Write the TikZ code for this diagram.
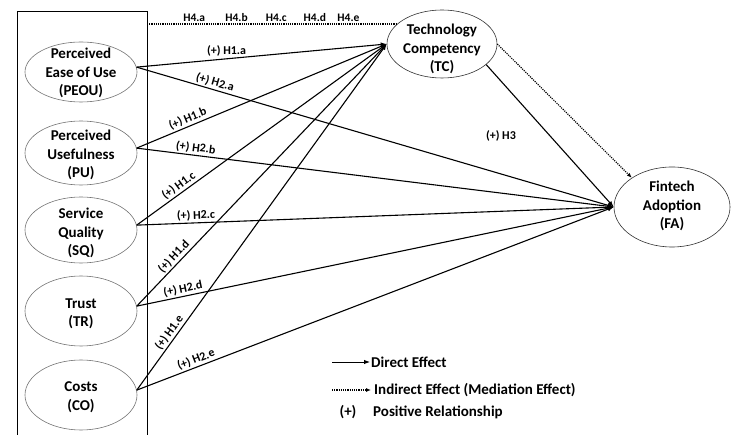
\documentclass[tikz,border=0pt]{standalone}
\usepackage{fontspec}
\setmainfont{Carlito}
\usetikzlibrary{shapes.geometric,arrows.meta}
\begin{document}
\begin{tikzpicture}[x=1pt,y=-1pt,
  cons/.style={draw=black!55, line width=0.6pt, ellipse, inner sep=0pt, minimum width=112pt},
  ctext/.style={font=\bfseries\fontsize{15}{18.5}\selectfont, align=center, text=black},
  direct/.style={line width=1.1pt, -{Latex[length=6pt,width=4.5pt]}},
  indirect/.style={line width=1.2pt, dash pattern=on 1.1pt off 1.1pt, -{Latex[length=5pt,width=4pt]}},
  dotline/.style={line width=1.2pt, dash pattern=on 1.1pt off 1.1pt},
  elab/.style={font=\bfseries\fontsize{12}{13}\selectfont, above, inner sep=1.5pt},
  eslope/.style={elab, sloped},
  hlab/.style={font=\bfseries\fontsize{11.5}{13}\selectfont, above, inner sep=2pt},
  legtext/.style={font=\bfseries\fontsize{15}{17}\selectfont},
]
\useasboundingbox (0,0) rectangle (732,435);

% frame around the independent constructs
\draw[line width=1pt] (17,435) -- (17,12) -- (147,12) -- (147,435);

% constructs
\node[cons, minimum height=60pt, label={[ctext, yshift=-1pt]center:Perceived\\Ease of Use\\(PEOU)}] (PEOU) at (81,72) {};
\node[cons, minimum height=64pt, label={[ctext, yshift=-2pt]center:Perceived\\Usefulness\\(PU)}] (PU) at (81,153) {};
\node[cons, minimum height=66pt, label={[ctext, yshift=-3pt]center:Service\\Quality\\(SQ)}] (SQ) at (81,230) {};
\node[cons, minimum height=70pt, label={[ctext, yshift=-3pt]center:Trust\\(TR)}] (TR) at (81,311) {};
\node[cons, minimum height=70pt, label={[ctext, yshift=-2pt]center:Costs\\(CO)}] (CO) at (81,395) {};

\node[cons, draw=black!80, minimum width=110pt, minimum height=68pt, label={[ctext, yshift=-5pt]center:Technology\\Competency\\(TC)}] (TC) at (442,44) {};
\node[cons, draw=black!80, minimum width=116pt, minimum height=80pt, label={[ctext, yshift=1pt]center:Fintech\\Adoption\\(FA)}] (FA) at (672,207) {};

% mediation (H4) dotted line
\coordinate (rtop) at (147,24);
\draw[dotline] (rtop) -- (rtop -| TC.158)
  node[hlab, pos=0.19] (h4a) {H4.a}
  node[hlab, pos=0.36] (h4b) {H4.b}
  node[hlab, pos=0.52] (h4c) {H4.c}
  node[hlab, pos=0.675] (h4d) {H4.d}
  node[hlab, pos=0.81] (h4e) {H4.e};

% H1 paths to TC
\draw[direct] (PEOU.5) -- node[elab, pos=0.36] (h1a) {(+) H1.a} (TC.west);
\draw[direct] (PU.5) -- node[eslope, pos=0.216] (h1b) {(+) H1.b} (TC.west);
\draw[direct] (SQ.5) -- node[eslope, pos=0.185] (h1c) {(+) H1.c} (TC.west);
\draw[direct] (TR.5) -- node[eslope, pos=0.17] (h1d) {(+) H1.d} (TC.west);
\draw[direct] (CO.5) -- node[eslope, pos=0.154] (h1e) {(+) H1.e} (TC.west);

% H2 paths to FA
\draw[direct] (PEOU.5) -- node[eslope, pos=0.16] (h2a) {(+) H2.a} (FA.west);
\draw[direct] (PU.5) -- node[eslope, pos=0.122] (h2b) {(+) H2.b} (FA.west);
\draw[direct] (SQ.5) -- node[eslope, pos=0.125] (h2c) {(+) H2.c} (FA.west);
\draw[direct] (TR.5) -- node[eslope, pos=0.10] (h2d) {(+) H2.d} (FA.west);
\draw[direct] (CO.5) -- node[eslope, pos=0.13] (h2e) {(+) H2.e} (FA.west);

% H3 and mediation arrow
\draw[direct] (TC.335) -- node[font=\bfseries\fontsize{12}{13}\selectfont, pos=0.5, xshift=-49pt] (h3) {(+) H3} (FA.west);
\draw[indirect] (TC.east) -- (FA.144);

% legend
\coordinate (l1a) at (332,362);
\coordinate (l1b) at (370,362);
\draw[direct, line width=0.9pt] (l1a) -- (l1b);
\node[legtext, anchor=west, inner sep=1pt] (ld) at (l1b) {Direct Effect};
\coordinate (l2a) at (332,390);
\coordinate (l2b) at (371,390);
\draw[indirect] (l2a) -- (l2b);
\node[legtext, anchor=west, inner sep=1pt] (li) at ([xshift=2pt]l2b) {Indirect Effect (Mediation Effect)};
\node[legtext, inner sep=1pt] (lp) at (348,412) {(+)};
\node[legtext, anchor=west, inner sep=1pt] (lr) at (372,412) {Positive Relationship};
\end{tikzpicture}
\end{document}
